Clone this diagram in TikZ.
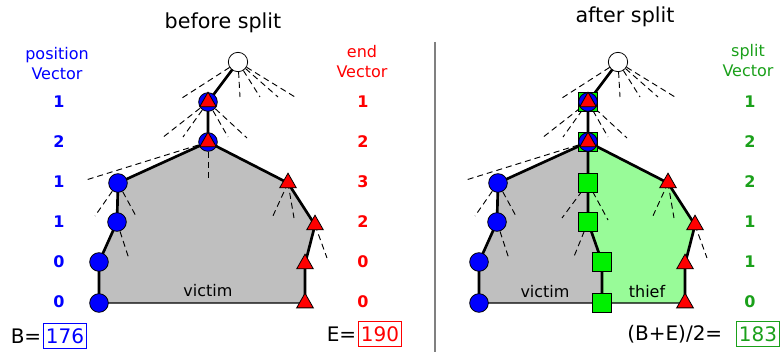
\documentclass[tikz,border=0pt]{standalone}
\usepackage{fontspec}
\setmainfont{DejaVu Sans}
\usetikzlibrary{shapes.geometric,positioning}
\definecolor{posblue}{RGB}{0,0,255}
\definecolor{endred}{RGB}{255,0,0}
\definecolor{splitgreen}{RGB}{26,160,26}
\definecolor{sqgreen}{RGB}{0,240,0}
\definecolor{victimfill}{RGB}{191,191,191}
\definecolor{thieffill}{RGB}{152,251,152}

\begin{document}
\begin{tikzpicture}[x=0.75pt,y=-0.75pt,
  every node/.style={font=\fontsize{12}{15}\selectfont},
  tree/.style={line width=2pt},
  ray/.style={dash pattern=on 4.5pt off 3pt, line width=0.7pt},
  rim/.style={line width=0.8pt},
  rootvtx/.style={circle, draw, fill=white, minimum size=14.5pt, inner sep=0pt, line width=0.6pt},
  posvtx/.style={circle, draw, fill=posblue, minimum size=14pt, inner sep=0pt, line width=0.6pt},
  endvtx/.style={isosceles triangle, isosceles triangle stretches, shape border rotate=90,
    minimum width=12.5pt, minimum height=11pt, draw, fill=endred, inner sep=0pt, line width=0.6pt},
  splitvtx/.style={rectangle, draw, fill=sqgreen, minimum size=14.5pt, inner sep=0pt, line width=0.6pt},
  num/.style={font=\fontsize{12}{15}\selectfont\bfseries},
  big/.style={font=\fontsize{15}{18}\selectfont},
  boxed/.style={draw, line width=0.6pt, inner xsep=2pt, inner ysep=3.5pt}]
  \useasboundingbox (0,0) rectangle (780,352);

  % vertex positions, left panel and right panel (shifted)
  \foreach \p/\dx in {L/0,R/380}{
    \begin{scope}[shift={(\dx,0)}]
      \coordinate (\p-r) at (238,62);
      \coordinate (\p-a1) at (208,102);
      \coordinate (\p-a2) at (208,142);
      \coordinate (\p-b1) at (118,183);
      \coordinate (\p-b2) at (117,222);
      \coordinate (\p-b3) at (99,262);
      \coordinate (\p-b4) at (99,303);
      \coordinate (\p-t1) at (288,183);
      \coordinate (\p-t2) at (315,225);
      \coordinate (\p-t3) at (305,264);
      \coordinate (\p-t4) at (305,303);
    \end{scope}}
  \coordinate (R-s3) at (588,183);
  \coordinate (R-s4) at (588,222);
  \coordinate (R-s5) at (602,262);
  \coordinate (R-s6) at (602,303);

  % regions
  \filldraw[victimfill, draw=black, rim] (L-a2) -- (L-b1) -- (L-b2) -- (L-b3) -- (L-b4)
    -- (L-t4) -- (L-t3) -- (L-t2) -- (L-t1) -- cycle;
  \filldraw[victimfill, draw=black, rim] (R-a2) -- (R-b1) -- (R-b2) -- (R-b3) -- (R-b4)
    -- (R-s6) -- (R-s5) -- (R-s4) -- (R-s3) -- cycle;
  \filldraw[thieffill, draw=black, rim] (R-a2) -- (R-s3) -- (R-s4) -- (R-s5) -- (R-s6)
    -- (R-t4) -- (R-t3) -- (R-t2) -- (R-t1) -- cycle;

  % omitted children
  \foreach \p/\dx in {L/0,R/380}{
    \begin{scope}[shift={(\dx,0)}]
      \foreach \e in {(182,98),(240,97),(260,97),(278,97),(295,97)} \draw[ray] (\p-r) -- \e;
      \foreach \e in {(162,138),(183,137),(228,137),(247,138)} \draw[ray] (\p-a1) -- \e;
      \draw[ray] (\p-a2) -- (86,180);
      \foreach \e in {(95,216),(137,218)} \draw[ray] (\p-b1) -- \e;
      \draw[ray] (\p-b2) -- (129,259);
      \foreach \e in {(272,218),(294,218)} \draw[ray] (\p-t1) -- \e;
      \draw[ray] (\p-t2) -- (327,258);
    \end{scope}}
  \draw[ray] (L-a2) -- (208,180);
  \foreach \e in {(562,218),(608,220)} \draw[ray] (R-s3) -- \e;
  \draw[ray] (R-s4) -- (573,259);

  % tree edges
  \foreach \p in {L,R}{
    \draw[tree] (\p-r) -- (\p-a1) -- (\p-a2) -- (\p-b1) -- (\p-b2) -- (\p-b3) -- (\p-b4);
    \draw[tree] (\p-a2) -- (\p-t1) -- (\p-t2) -- (\p-t3) -- (\p-t4);}
  \draw[tree] (R-a2) -- (R-s3) -- (R-s4) -- (R-s5) -- (R-s6);

  % markers
  \node[splitvtx] (R-a1q) at (R-a1) {};
  \node[splitvtx] (R-a2q) at (R-a2) {};
  \foreach \p in {L,R}{
    \node[rootvtx] (\p-rn) at (\p-r) {};
    \foreach \v in {a1,a2,b1,b2,b3,b4} \node[posvtx] (\p-\v c) at (\p-\v) {};
    \foreach \v in {a1,a2,t1,t2,t3,t4} \node[endvtx] (\p-\v m) at (\p-\v) {};}
  \foreach \v in {s3,s4,s5,s6} \node[splitvtx] (R-\v q) at (R-\v) {};

  % texts
  \node[font=\fontsize{15.5}{18}\selectfont] (ttlbefore) at (223,23) {before split};
  \node[font=\fontsize{15.5}{18}\selectfont] (ttlafter) at (625,17) {after split};
  \draw[gray, line width=1.1pt] (435,42) -- (435,352);
  \node[posblue, align=center] (posvec) at (57,64) {position\\Vector};
  \node[endred, align=center] (endvec) at (362,62) {end\\Vector};
  \node[splitgreen, align=center] (splitvec) at (748,61) {split\\Vector};
  \foreach \y/\a/\b/\c in {102/1/1/1,142/2/2/2,182/1/3/2,222/1/2/1,262/0/0/1,302/0/0/0}{
    \node[num, posblue] (pos\y) at (59,\y) {\a};
    \node[num, endred] (end\y) at (363,\y) {\b};
    \node[num, splitgreen] (split\y) at (750,\y) {\c};}
  \node (vicL) at (208,291) {victim};
  \node (vicR) at (545,292) {victim};
  \node (thief) at (647,292) {thief};

  \node[big, boxed, posblue] (bval) at (65,336) {176};
  \node[big, inner sep=0pt, left=1pt of bval] (blbl) {B=};
  \node[big, boxed, endred] (eval) at (380,334) {190};
  \node[big, inner sep=0pt, left=1pt of eval] (elbl) {E=};
  \node[big, boxed, splitgreen] (mval) at (758,334) {183};
  \node[big, inner sep=0pt, left=10pt of mval] (mlbl) {(B+E)/2=};
\end{tikzpicture}
\end{document}
